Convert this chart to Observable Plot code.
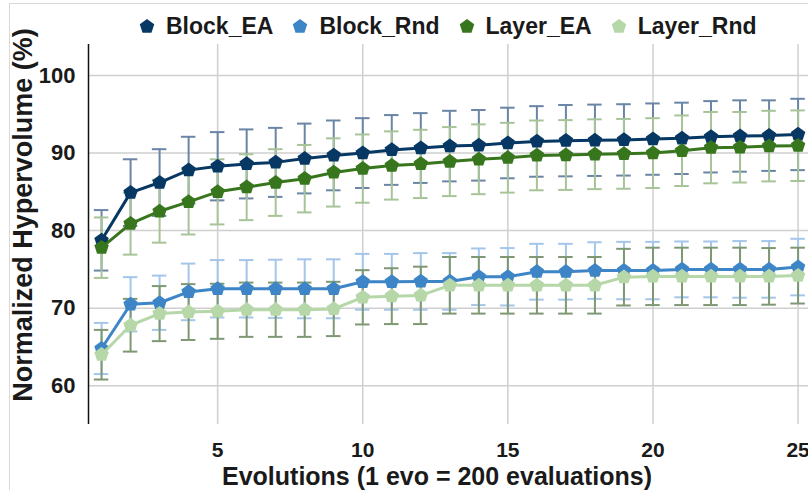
<!DOCTYPE html>
<html>
<head>
<meta charset="utf-8">
<script src="https://cdn.jsdelivr.net/npm/d3@7"></script>
<script src="https://cdn.jsdelivr.net/npm/@observablehq/plot@0.6"></script>
<style>
  html, body { margin: 0; padding: 0; background: #fff; overflow: hidden; }
  #wrap { position: relative; width: 808px; height: 490px; overflow: hidden; font-family: "Liberation Sans", Arial, sans-serif; color: #1a1a1a; }
  #frame { position: absolute; left: 9px; top: 3px; width: 1000px; height: 700px; border-top: 1.5px solid #d9d9d9; border-left: 1.5px solid #d9d9d9; }
  #chart { position: absolute; left: 0; top: 0; width: 815px; height: 490px; }
  #chart svg { max-width: none !important; }
  #legend { position: absolute; left: 139px; top: 13px; display: flex; align-items: center; height: 26px; }
  .item { display: flex; align-items: center; margin-right: 19px; font-size: 23px; font-weight: bold; line-height: 26px; white-space: nowrap; }
  .item svg { margin-right: 11px; }
  #ytitle { position: absolute; left: 23px; top: 215px; transform: translate(-50%, -50%) rotate(-90deg); font-size: 27px; font-weight: bold; white-space: nowrap; line-height: 30px; }
  #xtitle { position: absolute; left: 437px; top: 464px; transform: translateX(-50%); font-size: 25px; font-weight: bold; white-space: nowrap; line-height: 25px; }
</style>
</head>
<body>
<div id="wrap">
  <div id="frame"></div>
  <div id="chart"></div>
  <div id="legend"></div>
  <div id="ytitle">Normalized Hypervolume (%)</div>
  <div id="xtitle">Evolutions (1 evo = 200 evaluations)</div>
</div>
<script>
// ---- data ----
const evolutions = [1,2,3,4,5,6,7,8,9,10,11,12,13,14,15,16,17,18,19,20,21,22,23,24,25];
const seriesNames = ["Block_EA", "Block_Rnd", "Layer_EA", "Layer_Rnd"];

const blockEA    = [78.75, 84.9, 86.2, 87.8, 88.3, 88.6, 88.8, 89.3, 89.7, 90.0, 90.4, 90.65, 90.9, 91.0, 91.3, 91.5, 91.6, 91.65, 91.7, 91.8, 91.9, 92.1, 92.2, 92.25, 92.4];
const blockEAErr = [3.9, 4.3, 4.3, 4.3, 4.4, 4.45, 4.45, 4.5, 4.5, 4.5, 4.5, 4.5, 4.55, 4.55, 4.55, 4.55, 4.6, 4.6, 4.6, 4.6, 4.6, 4.6, 4.6, 4.55, 4.6];

const blockRnd    = [64.8, 70.5, 70.7, 72.1, 72.5, 72.5, 72.5, 72.5, 72.5, 73.4, 73.4, 73.45, 73.45, 74.05, 74.05, 74.7, 74.7, 74.85, 74.85, 74.85, 75.0, 75.0, 75.0, 75.0, 75.3];
const blockRndErr = [3.3, 3.5, 3.5, 3.65, 3.7, 3.7, 3.75, 3.8, 3.8, 3.6, 3.6, 3.65, 3.65, 3.65, 3.7, 3.6, 3.6, 3.65, 3.7, 3.7, 3.6, 3.6, 3.65, 3.65, 3.65];

const layerEA    = [77.8, 80.9, 82.5, 83.7, 85.0, 85.6, 86.2, 86.7, 87.5, 88.0, 88.4, 88.6, 88.9, 89.2, 89.4, 89.7, 89.75, 89.85, 89.9, 90.0, 90.3, 90.7, 90.75, 90.9, 90.95];
const layerEAErr = [3.9, 4.0, 4.05, 4.2, 4.2, 4.25, 4.3, 4.35, 4.4, 4.4, 4.4, 4.4, 4.45, 4.5, 4.5, 4.5, 4.5, 4.5, 4.5, 4.5, 4.55, 4.6, 4.55, 4.55, 4.55];

const layerRnd    = [64.0, 67.8, 69.3, 69.5, 69.6, 69.8, 69.8, 69.8, 69.9, 71.4, 71.55, 71.65, 72.95, 72.95, 72.95, 72.95, 72.95, 72.95, 74.0, 74.1, 74.1, 74.1, 74.1, 74.1, 74.2];
const layerRndErr = [3.2, 3.4, 3.55, 3.6, 3.55, 3.5, 3.5, 3.5, 3.5, 3.5, 3.6, 3.7, 3.65, 3.65, 3.65, 3.65, 3.65, 3.65, 3.65, 3.7, 3.7, 3.7, 3.7, 3.65, 3.6];

const xTicks = [5, 10, 15, 20, 25];
const yTicks = [60, 70, 80, 90, 100];

// ---- styling ----
const lineColors = {Block_EA: "#073763", Block_Rnd: "#3d85c6", Layer_EA: "#38761d", Layer_Rnd: "#b6d7a8"};
const errColors  = {Block_EA: "#6a85a5", Block_Rnd: "#a4c6ea", Layer_EA: "#a7c498", Layer_Rnd: "#7e9873"};

const valuesBy = {Block_EA: blockEA, Block_Rnd: blockRnd, Layer_EA: layerEA, Layer_Rnd: layerRnd};
const errBy    = {Block_EA: blockEAErr, Block_Rnd: blockRndErr, Layer_EA: layerEAErr, Layer_Rnd: layerRndErr};

const table = seriesNames.flatMap(s => evolutions.map((x, i) => ({series: s, x, y: valuesBy[s][i], e: errBy[s][i]})));

const pentagon = {
  draw(ctx, size) {
    const r = Math.sqrt(size / Math.PI);
    for (let i = 0; i < 5; i++) {
      const a = -Math.PI / 2 + i * 2 * Math.PI / 5;
      const px = r * Math.cos(a), py = r * Math.sin(a);
      if (i === 0) ctx.moveTo(px, py); else ctx.lineTo(px, py);
    }
    ctx.closePath();
  }
};

const xDomain = [0.55, 25.6];
const capHalf = 0.25;

const marks = [
  Plot.gridY(yTicks, {stroke: "#cfcfcf", strokeOpacity: 1, strokeWidth: 1.5}),
  Plot.gridX(xTicks, {stroke: "#cfcfcf", strokeOpacity: 1, strokeWidth: 1.5}),
  Plot.axisY(yTicks, {tickSize: 0, tickPadding: 13, fontSize: 22, fontWeight: "bold", label: null}),
  Plot.axisX(xTicks, {tickSize: 0, tickPadding: 18, fontSize: 21, fontWeight: "bold", label: null}),
  Plot.ruleX([xDomain[0]], {stroke: "#111", strokeWidth: 1.5})
];

for (const s of seriesNames) {
  const d = table.filter(r => r.series === s);
  marks.push(
    Plot.ruleX(d, {x: "x", y1: r => r.y - r.e, y2: r => r.y + r.e, stroke: errColors[s], strokeWidth: 2}),
    Plot.ruleY(d, {y: r => r.y + r.e, x1: r => r.x - capHalf, x2: r => r.x + capHalf, stroke: errColors[s], strokeWidth: 2}),
    Plot.ruleY(d, {y: r => r.y - r.e, x1: r => r.x - capHalf, x2: r => r.x + capHalf, stroke: errColors[s], strokeWidth: 2})
  );
}
for (const s of seriesNames) {
  const d = table.filter(r => r.series === s);
  marks.push(
    Plot.line(d, {x: "x", y: "y", stroke: lineColors[s], strokeWidth: 3}),
    Plot.dot(d, {x: "x", y: "y", symbol: pentagon, r: 7.6, fill: lineColors[s], stroke: "none"})
  );
}

const chart = Plot.plot({
  width: 815,
  height: 490,
  marginTop: 44,
  marginBottom: 66,
  marginLeft: 88,
  marginRight: 0,
  style: {fontFamily: "Liberation Sans, Arial, sans-serif", color: "#1a1a1a", background: "transparent", overflow: "visible", maxWidth: "none"},
  x: {domain: xDomain},
  y: {domain: [55, 104]},
  marks
});
document.getElementById("chart").appendChild(chart);

// ---- legend ----
const legend = document.getElementById("legend");
for (const s of seriesNames) {
  const item = document.createElement("div");
  item.className = "item";
  const pts = d3.range(5).map(i => {
    const a = -Math.PI / 2 + i * 2 * Math.PI / 5;
    return [8 + 7.6 * Math.cos(a), 8.5 + 7.6 * Math.sin(a)].join(",");
  }).join(" ");
  item.innerHTML = `<svg width="16" height="16" viewBox="0 0 16 16"><polygon points="${pts}" fill="${lineColors[s]}"/></svg><span>${s}</span>`;
  legend.appendChild(item);
}
</script>
</body>
</html>
